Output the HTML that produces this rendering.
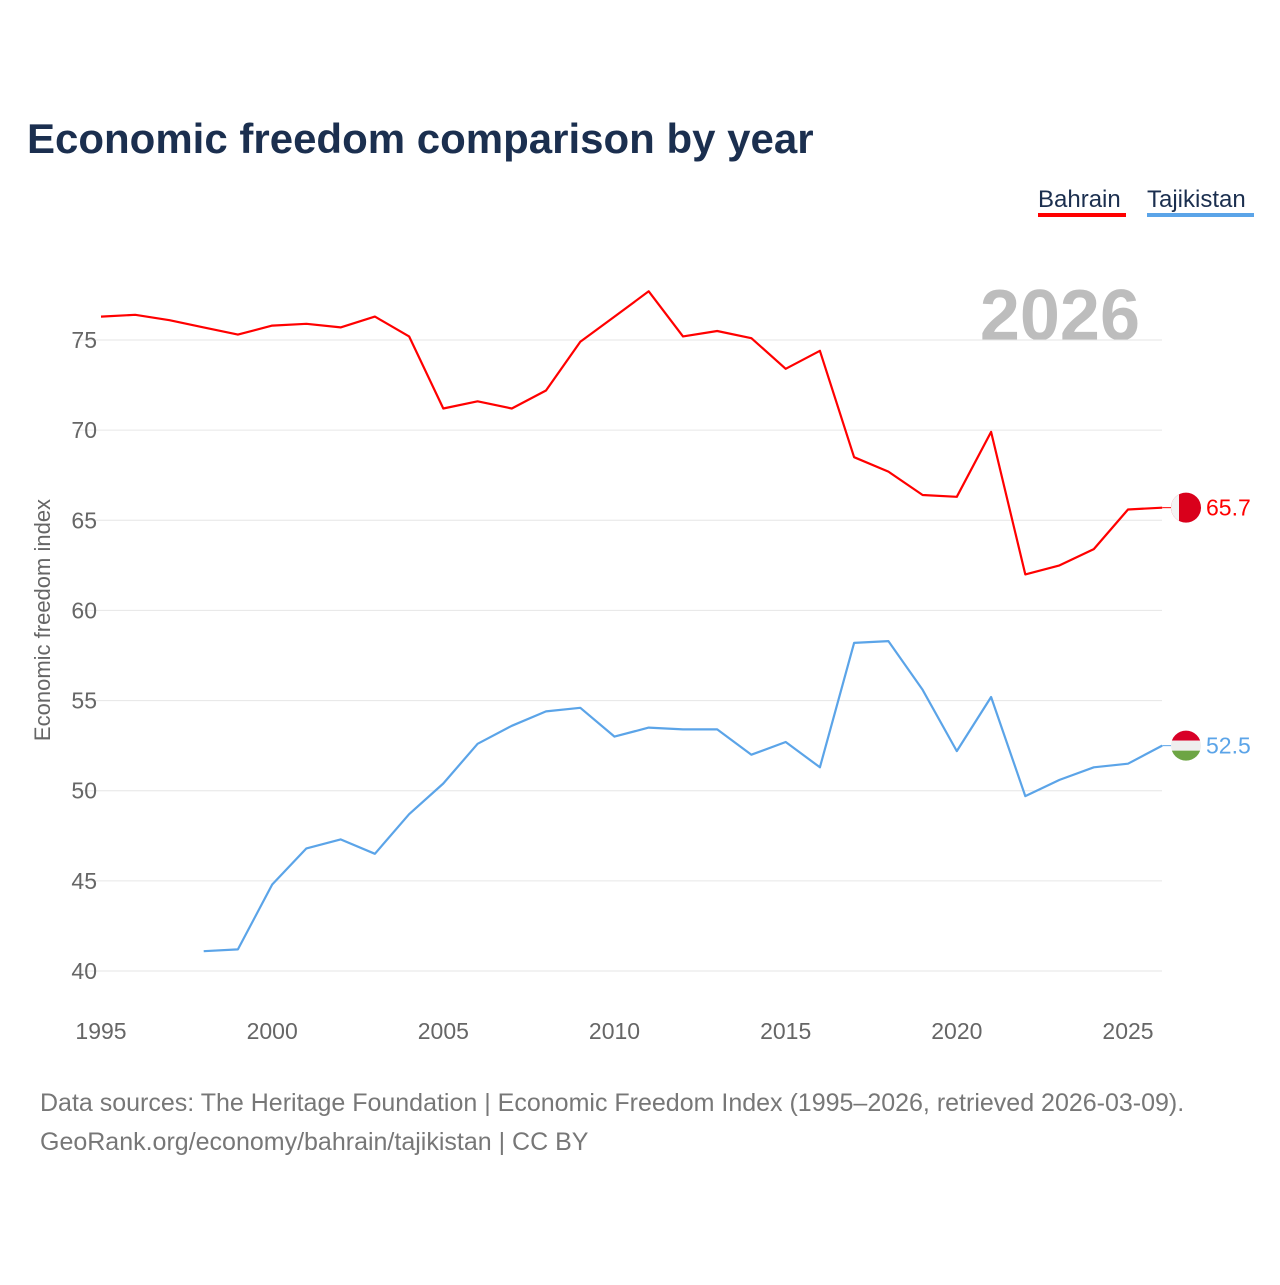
<!DOCTYPE html>
<html><head><meta charset="utf-8"><style>
body{margin:0;background:#fff;font-family:"Liberation Sans",sans-serif}
</style></head><body>
<svg id="chart" width="1280" height="1280" xmlns="http://www.w3.org/2000/svg">
<defs>
<clipPath id="clipB"><circle id="cB" cx="1186" cy="0" r="15"/></clipPath>
<clipPath id="clipT"><circle id="cT" cx="1186" cy="0" r="15"/></clipPath>
</defs>
<text x="27" y="153" font-size="42" font-weight="bold" fill="#1b2f4f">Economic freedom comparison by year</text>
<g><text x="1038" y="207" font-size="24" fill="#1b2f4f">Bahrain</text><rect x="1038" y="213" width="88" height="4" fill="#ff0000"/></g>
<g><text x="1147" y="207" font-size="24" fill="#1b2f4f">Tajikistan</text><rect x="1147" y="213" width="107" height="4" fill="#5ba4e8"/></g>
<text x="1140" y="340" font-size="72" font-weight="bold" fill="#bdbdbd" text-anchor="end">2026</text>
<text transform="translate(50,620) rotate(-90)" font-size="22" fill="#666" text-anchor="middle">Economic freedom index</text>
<g id="grid"></g><g id="series"></g>
<text x="40" y="1111" font-size="25" fill="#777">Data sources: The Heritage Foundation | Economic Freedom Index (1995–2026, retrieved 2026-03-09).</text>
<text x="40" y="1150" font-size="25" fill="#777">GeoRank.org/economy/bahrain/tajikistan | CC BY</text>
</svg>
<script>
const years=[1995,1996,1997,1998,1999,2000,2001,2002,2003,2004,2005,2006,2007,2008,2009,2010,2011,2012,2013,2014,2015,2016,2017,2018,2019,2020,2021,2022,2023,2024,2025,2026];
const bahrain=[76.3,76.4,76.1,75.7,75.3,75.8,75.9,75.7,76.3,75.2,71.2,71.6,71.2,72.2,74.9,76.3,77.7,75.2,75.5,75.1,73.4,74.4,68.5,67.7,66.4,66.3,69.9,62.0,62.5,63.4,65.6,65.7];
const tajikistan=[null,null,null,41.1,41.2,44.8,46.8,47.3,46.5,48.7,50.4,52.6,53.6,54.4,54.6,53.0,53.5,53.4,53.4,52.0,52.7,51.3,58.2,58.3,55.6,52.2,55.2,49.7,50.6,51.3,51.5,52.5];
const yTicks=[40,45,50,55,60,65,70,75];
const xTicks=[1995,2000,2005,2010,2015,2020,2025];
const NS="http://www.w3.org/2000/svg";
const X=v=>101+(v-1995)*(1128-101)/30;
const Y=v=>971-(v-40)*(971-340)/35;
function mk(t,a,p){const e=document.createElementNS(NS,t);for(const k in a)e.setAttribute(k,a[k]);p.appendChild(e);return e;}
const grid=document.getElementById('grid'),ser=document.getElementById('series');
yTicks.forEach(v=>{
 const l=mk('line',{x1:75,x2:1162,y1:Y(v),y2:Y(v),stroke:'#e6e6e6','stroke-width':1},grid);
 
 
 const t=mk('text',{x:97,y:Y(v)+8,'font-size':23,fill:'#666','text-anchor':'end'},grid);t.textContent=v;
 
 
});
xTicks.forEach(v=>{
 const t=mk('text',{x:X(v),y:1039,'font-size':23,fill:'#666','text-anchor':'middle'},grid);t.textContent=v;
 
 
});
function line(vals,color,name){
 let d='';vals.forEach((v,i)=>{if(v==null)return;d+=(d?'L':'M')+X(years[i]).toFixed(1)+','+Y(v).toFixed(1);});
 const p=mk('path',{d:d,fill:'none',stroke:color,'stroke-width':2.2,'stroke-linejoin':'round'},ser);
 
 
 const last=vals[vals.length-1],ly=Y(last),lx=X(years[years.length-1]);
 mk('line',{x1:lx,x2:1172,y1:ly,y2:ly,stroke:color,'stroke-width':1},ser);
 const t=mk('text',{x:1206,y:ly+8,'font-size':23,fill:color},ser);t.textContent=last.toFixed(1);
 
 
}
line(bahrain,'#ff0000','bahrain');
line(tajikistan,'#5ba4e8','tajikistan');
const by=Y(bahrain[31]);document.getElementById('cB').setAttribute('cy',by);
const gb=mk('g',{'clip-path':'url(#clipB)'},ser);


mk('rect',{x:1170,y:by-16,width:32,height:32,fill:'#d9001b'},gb);
mk('rect',{x:1170,y:by-16,width:9,height:32,fill:'#f4f4f4'},gb);
const ty=Y(tajikistan[31]);document.getElementById('cT').setAttribute('cy',ty);
const gt=mk('g',{'clip-path':'url(#clipT)'},ser);


mk('rect',{x:1170,y:ty-16,width:32,height:11,fill:'#d80027'},gt);
mk('rect',{x:1170,y:ty-5,width:32,height:10,fill:'#eeeeee'},gt);
mk('rect',{x:1170,y:ty+5,width:32,height:11,fill:'#6da544'},gt);
</script>
</body></html>
